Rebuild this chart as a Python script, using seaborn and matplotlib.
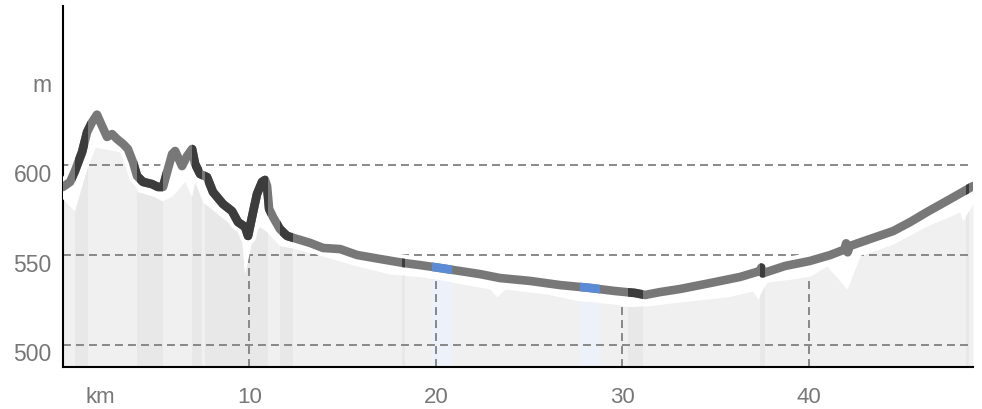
import numpy as np
import matplotlib
matplotlib.use("Agg")
import matplotlib.pyplot as plt
import seaborn as sns
from matplotlib.path import Path
from matplotlib.transforms import ScaledTranslation

# ---- data -------------------------------------------------------------
# smoothed route elevation (the thick line)
line_km = [0.0, 0.39, 0.65, 1.03, 1.30, 1.57, 1.83, 2.10, 2.37, 2.64, 2.91, 3.23,
           3.49, 3.76, 3.98, 4.30, 4.78, 5.10, 5.37, 5.59, 5.86, 6.02, 6.39, 6.66,
           6.93, 7.09, 7.36, 7.73, 8.05, 8.59, 9.07, 9.39, 9.77, 9.93, 10.20, 10.41,
           10.68, 10.84, 10.95, 11.06, 11.27, 11.64, 12.02, 12.56, 13.26, 13.96,
           14.87, 15.78, 17.00, 18.25, 19.15, 20.22, 21.29, 22.37, 23.44, 25.05,
           26.66, 28.27, 29.60, 30.68, 31.22, 32.02, 33.09, 34.70, 36.31, 37.38,
           37.45, 37.52, 38.72, 40.06, 41.15, 41.90, 42.00, 42.08, 42.20, 43.28,
           44.52, 45.43, 46.34, 47.58, 48.80]
line_elev = [587.8, 590.6, 596.7, 607.2, 618.3, 623.9, 628.0, 621.7, 615.6, 617.2,
             614.4, 611.7, 608.9, 601.7, 593.9, 590.6, 589.4, 587.8, 587.8, 596.1,
             606.1, 607.8, 599.4, 605.0, 608.9, 600.6, 595.0, 593.3, 585.0, 578.3,
             574.4, 568.3, 565.6, 560.6, 573.9, 583.9, 590.6, 591.7, 588.3, 575.6,
             571.1, 564.4, 560.6, 558.9, 556.7, 553.9, 553.3, 550.0, 547.8, 545.6,
             544.4, 542.8, 541.1, 539.4, 537.2, 535.6, 533.3, 531.7, 530.0, 528.9,
             527.8, 529.4, 531.1, 534.4, 537.8, 541.1, 543.0, 539.8, 543.9, 546.7,
             550.0, 553.0, 556.5, 551.5, 555.0, 558.9, 563.3, 568.3, 573.9, 581.1,
             588.3]

# raw terrain profile (light grey area)
fill_km = [0.0, 0.65, 1.35, 1.73, 2.26, 3.17, 3.71, 4.03, 4.94, 5.32, 5.86, 6.55,
           6.93, 7.09, 7.52, 8.43, 9.34, 9.61, 9.77, 9.98, 10.20, 10.57, 10.95,
           11.65, 12.56, 13.95, 15.78, 17.54, 19.30, 21.14, 22.91, 23.28, 23.71,
           25.96, 27.73, 29.50, 30.41, 31.32, 33.10, 35.62, 37.00, 37.28, 37.76,
           39.15, 40.07, 40.98, 42.05, 42.74, 44.51, 46.34, 48.11, 48.27, 48.80]
fill_elev = [581.1, 574.4, 599.4, 610.0, 608.9, 607.2, 593.9, 585.0, 582.2, 580.0,
             582.8, 591.1, 582.2, 590.6, 579.4, 571.7, 564.4, 558.9, 539.4, 548.9,
             560.6, 565.6, 562.8, 555.0, 553.3, 549.4, 543.9, 539.4, 537.8, 534.4,
             531.1, 526.7, 531.1, 528.3, 524.4, 522.8, 521.1, 521.7, 523.9, 526.7,
             530.0, 525.6, 535.0, 536.7, 538.3, 543.9, 531.1, 549.4, 556.1, 566.1,
             573.9, 568.9, 578.3]

# slope classes along the route (km ranges)
steep_ranges = [(0.65, 1.35), (4.00, 5.37), (6.93, 7.46), (7.62, 10.99),
                (11.64, 12.34), (18.20, 18.35), (30.30, 31.10), (37.40, 37.65),
                (48.40, 48.60)]
flat_ranges = [(19.80, 20.87), (27.73, 28.80)]

grid_vals = [500, 550, 600]
xtick_pos = [2, 10, 20, 30, 40]
xtick_labels = ["km", "10", "20", "30", "40"]
ytick_pos = [500, 550, 600, 650]
ytick_labels = ["500", "550", "600", "m"]

# ---- style ------------------------------------------------------------
GRAY_LINE = "#787878"
DARK_LINE = "#3c3c3c"
BLUE_LINE = "#5b8bd5"
FILL = "#f0f0f0"
FILL_STEEP = "#e8e8e8"
FILL_FLAT = "#ecf1fa"
GRID = "#808080"
TEXT = "#777777"

sns.set_theme(style="white")
plt.rcParams["font.family"] = ["Liberation Sans", "DejaVu Sans"]

fig = plt.figure(figsize=(9.82, 4.10), dpi=100)
ax = fig.add_axes([0.0640, 0.1017, 0.9268, 0.8805])
ymin, ymax = 487.6, 688.2
ax.set_xlim(0, 48.8)
ax.set_ylim(ymin, ymax)

line_km_a = np.array(line_km)
line_elev_a = np.array(line_elev)
fill_km_a = np.array(fill_km)
fill_elev_a = np.array(fill_elev)

# terrain area
poly = ax.fill_between(fill_km_a, fill_elev_a, ymin - 20, color=FILL, lw=0, zorder=1)
clip = poly.get_paths()[0]
for a, b in steep_ranges:
    r = ax.axvspan(a, b, color=FILL_STEEP, lw=0, zorder=1.1)
    r.set_clip_path(clip, ax.transData)
for a, b in flat_ranges:
    r = ax.axvspan(a, b, color=FILL_FLAT, lw=0, zorder=1.1)
    r.set_clip_path(clip, ax.transData)

# dashed grid
dash = (0, (4.4, 2.8))
for v in grid_vals:
    ax.axhline(v, color=GRID, lw=1.3, ls=dash, zorder=2)
vx = xtick_pos[1:]
ax.vlines(vx, ymin, np.interp(vx, line_km_a, line_elev_a), color=GRID, lw=1.3,
          linestyles=[dash], zorder=2)

# white band between terrain and route line
ax.fill(np.r_[line_km_a, fill_km_a[::-1]], np.r_[line_elev_a, fill_elev_a[::-1]],
        color="white", lw=0, zorder=3)
sns.lineplot(x=line_km_a, y=line_elev_a, color="white", lw=12, ax=ax, zorder=3.5,
             sort=False, estimator=None, solid_joinstyle="round")

# route line, coloured by class
def ranges_path(ranges):
    verts, codes = [], []
    for a, b in ranges:
        verts += [(a, ymin - 50), (b, ymin - 50), (b, ymax + 50), (a, ymax + 50), (a, ymin - 50)]
        codes += [Path.MOVETO, Path.LINETO, Path.LINETO, Path.LINETO, Path.CLOSEPOLY]
    return Path(verts, codes)

sns.lineplot(x=line_km_a, y=line_elev_a, color=GRAY_LINE, lw=6.2, ax=ax, zorder=4,
             sort=False, estimator=None, solid_joinstyle="round")
for ranges, col in [(steep_ranges, DARK_LINE), (flat_ranges, BLUE_LINE)]:
    sns.lineplot(x=line_km_a, y=line_elev_a, color=col, lw=6.2, ax=ax, zorder=4.1,
                 sort=False, estimator=None, solid_joinstyle="round")
    ax.lines[-1].set_clip_path(ranges_path(ranges), ax.transData)

# axes decoration
for s in ["top", "right"]:
    ax.spines[s].set_visible(False)
for s in ["left", "bottom"]:
    ax.spines[s].set_color("black")
    ax.spines[s].set_linewidth(1.5)
    ax.spines[s].set_zorder(2.5)

ax.set_xticks(xtick_pos)
ax.set_xticklabels(xtick_labels)
ax.set_yticks(ytick_pos)
ax.set_yticklabels(ytick_labels)
ax.set_xlabel("")
ax.set_ylabel("")
ax.tick_params(axis="both", length=0, labelsize=16.5, labelcolor=TEXT)
ax.tick_params(axis="x", pad=13.6, labelsize=16)
ax.tick_params(axis="y", pad=8.0)
off = ScaledTranslation(0, -0.155, fig.dpi_scale_trans)
for lab in ax.get_yticklabels():
    lab.set_va("baseline")
    lab.set_transform(lab.get_transform() + off)

fig.savefig("out.png", dpi=100, facecolor="white")
